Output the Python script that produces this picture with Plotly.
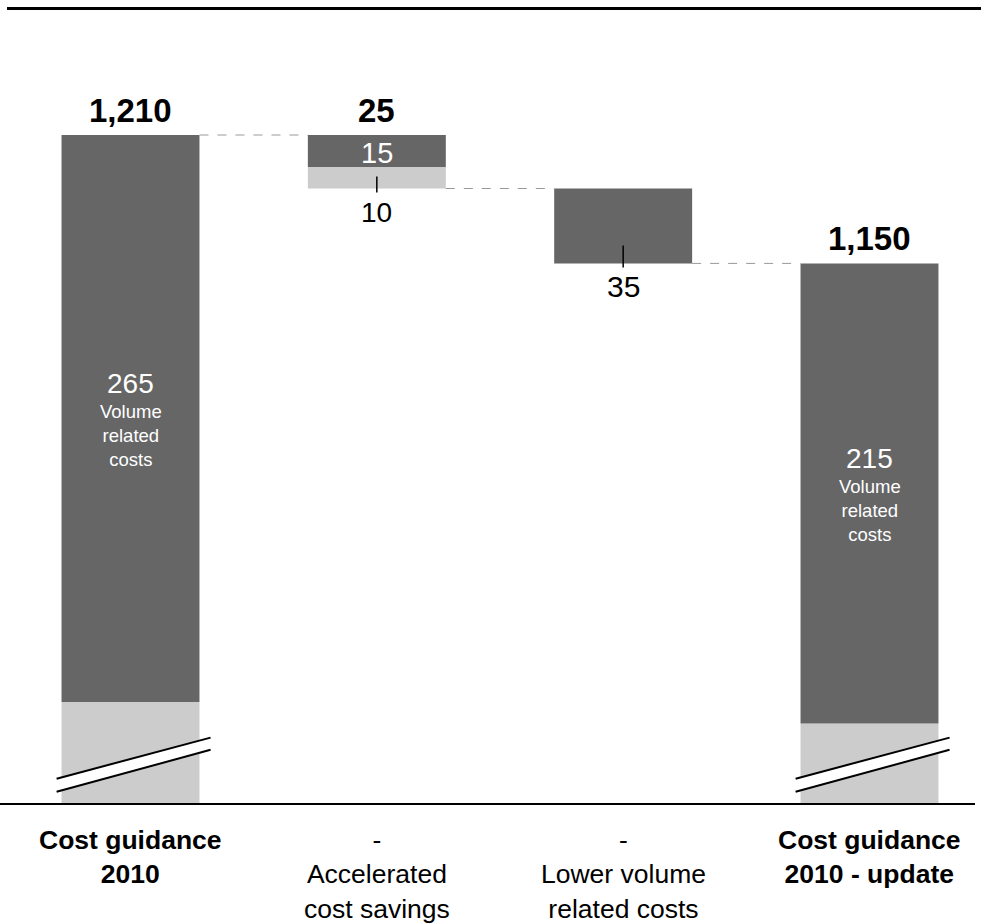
import plotly.graph_objects as go

# ---- data -------------------------------------------------------------
categories = [
    "<b>Cost guidance<br>2010</b>",
    "-<br>Accelerated<br>cost savings",
    "-<br>Lower volume<br>related costs",
    "<b>Cost guidance<br>2010 - update</b>",
]
guidance_2010 = 1210          # initial cost guidance
guidance_update = 1150        # updated cost guidance
volume_related = [265, 215]   # volume related costs within each guidance total
savings_split = [15, 10]      # accelerated cost savings: upper / lower part
lower_volume = 35             # lower volume related costs
total_labels = ["1,210", "25", "1,150"]

axis_floor = 897              # value shown at the broken baseline

# ---- styling ------------------------------------------------------------
DARK = "#666666"
LIGHT = "#cccccc"
FONT = "Arial, 'Liberation Sans', sans-serif"
BAR_W = 0.56
PX_PER_UNIT = 2.14
W, H = 981, 923

savings_total = sum(savings_split)
level_after_savings = guidance_2010 - savings_total

x = [0, 1, 2, 3]

# dark segments
dark_base = [
    guidance_2010 - volume_related[0],
    guidance_2010 - savings_split[0],
    guidance_update,
    guidance_update - volume_related[1],
]
dark_len = [volume_related[0], savings_split[0], lower_volume, volume_related[1]]

# light segments
light_base = [axis_floor, level_after_savings, None, axis_floor]
light_len = [
    guidance_2010 - volume_related[0] - axis_floor,
    savings_split[1],
    None,
    guidance_update - volume_related[1] - axis_floor,
]

fig = go.Figure()
fig.add_trace(go.Bar(x=x, y=light_len, base=light_base, width=BAR_W,
                     marker=dict(color=LIGHT, line=dict(width=0)),
                     hoverinfo="skip"))
fig.add_trace(go.Bar(x=x, y=dark_len, base=dark_base, width=BAR_W,
                     marker=dict(color=DARK, line=dict(width=0)),
                     hoverinfo="skip"))

# axis ranges: first bar centre at 130.5px, last at 869.5px
px_per_cat = (869.5 - 130.5) / 3
x_range = [-130.5 / px_per_cat, (W - 130.5) / px_per_cat]
y_top = guidance_2010 + 135 / PX_PER_UNIT
y_range = [y_top - H / PX_PER_UNIT, y_top]

shapes = []
# dashed connectors between bars
levels = [guidance_2010, level_after_savings, guidance_update]
for i, lv in enumerate(levels):
    shapes.append(dict(type="line", xref="x", yref="y",
                       x0=i + BAR_W / 2, x1=i + 1 - BAR_W / 2, y0=lv, y1=lv,
                       line=dict(color="#999999", width=1, dash="dash")))

# small ticks at the lower edge of the two change bars
for i, lv, up, down in [(1, level_after_savings, 12, 4), (2, guidance_update, 18, 4)]:
    shapes.append(dict(type="line", xref="x", yref="y",
                       x0=i, x1=i, y0=lv + up / PX_PER_UNIT, y1=lv - down / PX_PER_UNIT,
                       line=dict(color="#000000", width=1.5)))

# axis-break marks on the two total bars
for i in (0, 3):
    xl, xr = i - 0.30, i + 0.325
    lo1, hi1 = axis_floor + 12.2, axis_floor + 31.4
    lo2, hi2 = axis_floor + 6.1, axis_floor + 25.7
    shapes.append(dict(type="path", xref="x", yref="y",
                       path=f"M {xl},{lo1} L {xr},{hi1} L {xr},{hi2} L {xl},{lo2} Z",
                       fillcolor="white", line=dict(width=0)))
    for lo, hi in ((lo1, hi1), (lo2, hi2)):
        shapes.append(dict(type="line", xref="x", yref="y",
                           x0=xl, x1=xr, y0=lo, y1=hi,
                           line=dict(color="#000000", width=2)))

# top rule and baseline
shapes.append(dict(type="line", xref="paper", yref="paper",
                   x0=7 / W, x1=1, y0=1 - 8.5 / H, y1=1 - 8.5 / H,
                   line=dict(color="#000000", width=3)))
shapes.append(dict(type="line", xref="paper", yref="paper",
                   x0=0, x1=975 / W, y0=1 - 804 / H, y1=1 - 804 / H,
                   line=dict(color="#000000", width=2)))

annotations = []
# totals above bars
for xi, yv, txt in [(0, guidance_2010, total_labels[0]),
                    (1, guidance_2010, total_labels[1]),
                    (3, guidance_update, total_labels[2])]:
    annotations.append(dict(x=xi, y=yv, xref="x", yref="y", text=f"<b>{txt}</b>",
                            showarrow=False, yanchor="bottom", yshift=4,
                            font=dict(family=FONT, size=33, color="#000000")))

# upper savings part (inside) and lower part (below bar)
annotations.append(dict(x=1, y=guidance_2010 - savings_split[0] / 2, xref="x", yref="y",
                        text=str(savings_split[0]), showarrow=False, yanchor="middle",
                        yshift=-2, font=dict(family=FONT, size=29, color="#ffffff")))
annotations.append(dict(x=1, y=level_after_savings, xref="x", yref="y",
                        text=str(savings_split[1]), showarrow=False, yanchor="top",
                        yshift=-6, font=dict(family=FONT, size=28, color="#000000")))
annotations.append(dict(x=2, y=guidance_update, xref="x", yref="y",
                        text=str(lower_volume), showarrow=False, yanchor="top",
                        yshift=-5, font=dict(family=FONT, size=30, color="#000000")))

# volume related costs inside the total bars
for xi, base, v in [(0, dark_base[0], volume_related[0]), (3, dark_base[3], volume_related[1])]:
    mid = base + v / 2
    annotations.append(dict(x=xi, y=mid, xref="x", yref="y", text=str(v),
                            showarrow=False, yanchor="middle", yshift=35,
                            font=dict(family=FONT, size=28, color="#ffffff")))
    annotations.append(dict(x=xi, y=mid, xref="x", yref="y",
                            text="Volume<br>related<br>costs",
                            showarrow=False, yanchor="middle", yshift=-17,
                            font=dict(family=FONT, size=18.5, color="#ffffff")))

# category labels under the baseline
for xi, txt in zip(x, categories):
    annotations.append(dict(x=xi, y=1 - 823 / H, xref="x", yref="paper", text=txt,
                            showarrow=False, yanchor="top", align="center",
                            font=dict(family=FONT, size=26.5, color="#000000")))

fig.update_layout(
    width=W, height=H,
    margin=dict(l=0, r=0, t=0, b=0),
    paper_bgcolor="white", plot_bgcolor="white",
    barmode="overlay", showlegend=False,
    xaxis=dict(range=x_range, visible=False, fixedrange=True),
    yaxis=dict(range=y_range, visible=False, fixedrange=True),
    shapes=shapes, annotations=annotations,
)

fig.write_html("out.html")
